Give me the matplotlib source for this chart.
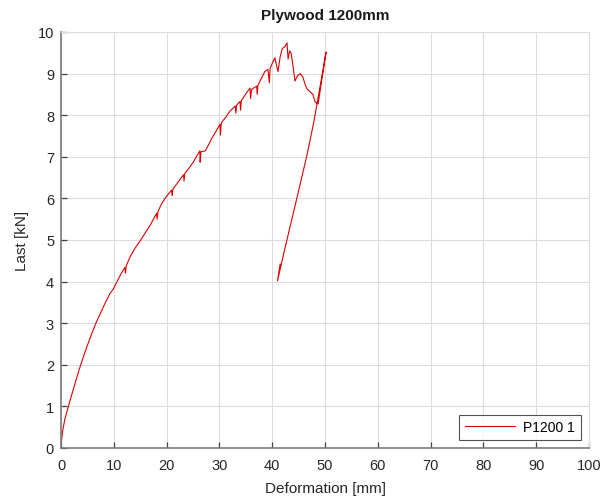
import matplotlib
matplotlib.use("Agg")
import matplotlib.pyplot as plt

plt.rcParams["font.family"] = ["Liberation Sans", "DejaVu Sans"]

RED = "#e00000"
AXIS = "#7a7a7a"
GRID = "#dcdcdc"

# load-deformation record, specimen P1200 1
deformation = [
    0.0, 0.3, 0.7, 1.4, 2.0, 2.65, 3.4, 4.2, 5.0, 5.8, 6.6, 7.4, 8.3, 9.3,
    9.9, 10.85, 11.6, 12.1, 12.2, 12.35, 13.1, 14.0, 15.0, 15.9, 16.9,
    17.5, 18.1, 18.2, 18.35, 19.0, 19.7, 20.3, 20.96, 21.05, 21.2, 22.0,
    22.5, 23.2, 23.3, 23.45, 24.2, 25.1, 25.7, 26.3, 26.35, 26.5, 27.3,
    28.0, 28.5, 29.3, 30.1, 30.2, 30.35, 31.2, 32.0, 33.0, 33.1, 33.25,
    33.9, 34.0, 34.15, 35.2, 35.8, 35.9, 36.1, 37.06, 37.15, 37.3, 38.0,
    38.6, 39.2, 39.45, 39.6, 40.0, 40.5, 40.9, 41.1, 41.5, 41.9, 42.4,
    42.8, 43.0, 43.3, 43.6, 44.0, 44.3, 44.8, 45.3, 45.8, 46.2, 46.6,
    47.2, 47.7, 48.1, 48.7, 49.2, 49.7, 50.2, 49.5, 48.8, 47.9, 46.6,
    44.6, 42.5, 41.0, 41.5,
]
load = [
    0.1, 0.4, 0.68, 1.0, 1.27, 1.55, 1.87, 2.18, 2.47, 2.74, 3.0, 3.22,
    3.47, 3.72, 3.82, 4.06, 4.24, 4.34, 4.2, 4.38, 4.6, 4.8, 4.98, 5.16,
    5.36, 5.5, 5.64, 5.5, 5.68, 5.86, 6.0, 6.1, 6.2, 6.06, 6.23, 6.36,
    6.45, 6.57, 6.42, 6.6, 6.72, 6.88, 7.02, 7.14, 6.87, 7.12, 7.14, 7.3,
    7.43, 7.6, 7.78, 7.52, 7.82, 7.95, 8.1, 8.22, 8.05, 8.24, 8.33, 8.12,
    8.35, 8.55, 8.65, 8.4, 8.62, 8.7, 8.5, 8.72, 8.9, 9.05, 9.1, 8.78,
    9.12, 9.25, 9.38, 9.15, 9.05, 9.4, 9.6, 9.65, 9.74, 9.35, 9.55, 9.48,
    9.12, 8.82, 8.95, 9.0, 8.92, 8.75, 8.63, 8.56, 8.5, 8.32, 8.27, 8.7,
    9.1, 9.52, 9.0, 8.5, 7.85, 7.05, 5.97, 4.85, 4.02, 4.42,
]

x_ticks = list(range(0, 101, 10))
y_ticks = list(range(0, 11))

fig = plt.figure(figsize=(6.03, 5.02), dpi=100)
ax = fig.add_axes([0.1012, 0.1056, 0.8756, 0.8287])

ax.plot(deformation, load, color=RED, lw=0.8, label="P1200 1")

ax.set_xlim(0, 100)
ax.set_ylim(0, 10)
ax.set_xticks(x_ticks)
ax.set_yticks(y_ticks)
ax.grid(True, color=GRID, lw=0.8)
ax.set_axisbelow(True)

for side in ("left", "bottom"):
    ax.spines[side].set_color(AXIS)
    ax.spines[side].set_linewidth(1.2)
for side in ("top", "right"):
    ax.spines[side].set_color(GRID)
    ax.spines[side].set_linewidth(0.8)

ax.tick_params(direction="in", length=4, width=0.9, color="#404040",
               labelsize=10.5, labelcolor="#262626")
ax.tick_params(axis="x", pad=7)
ax.tick_params(axis="y", pad=5)

ax.set_xlabel("Deformation [mm]", fontsize=11, color="#262626", labelpad=7)
ax.set_ylabel("Last [kN]", fontsize=11, color="#262626", labelpad=6)
ax.set_title("Plywood 1200mm", fontsize=11, fontweight="bold",
             color="#1a1a1a", pad=9)

leg = ax.legend(loc="lower right", fontsize=10, fancybox=False,
                frameon=True, handlelength=3.6, borderaxespad=0.6,
                borderpad=0.4, handletextpad=0.6)
leg.get_frame().set_edgecolor("#262626")
leg.get_frame().set_linewidth(0.8)

fig.savefig("out.png", dpi=100, facecolor="white")
